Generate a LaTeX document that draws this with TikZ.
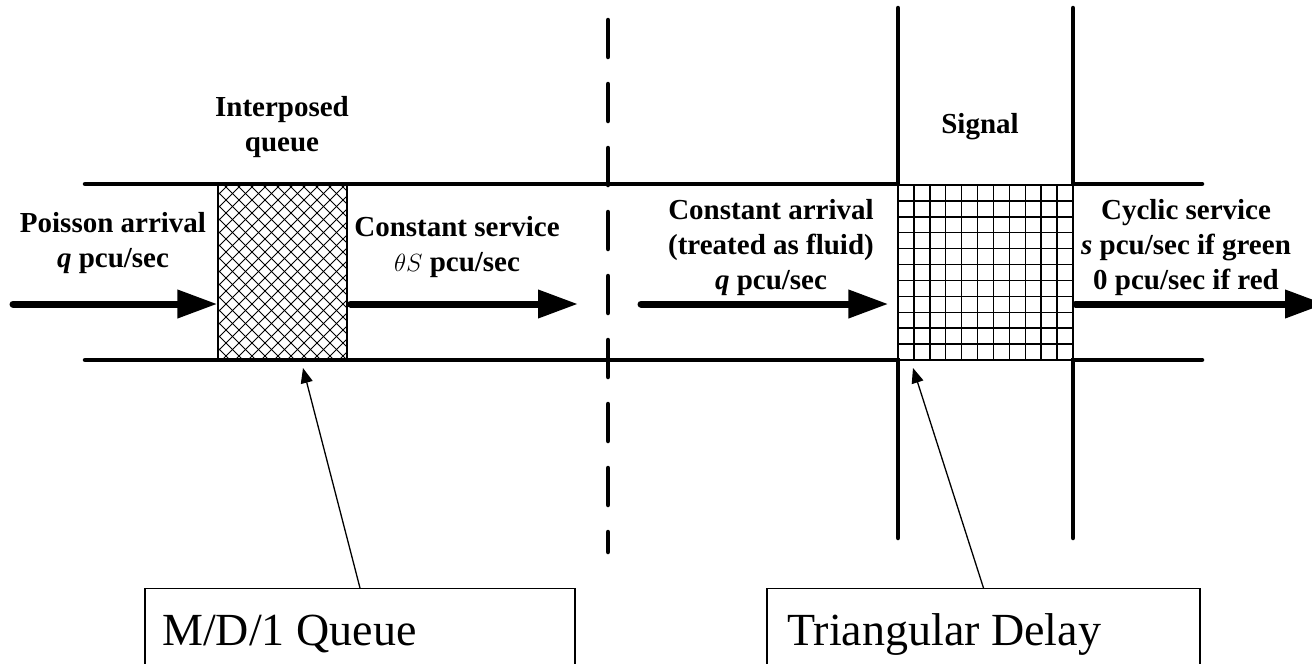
\documentclass[tikz,border=0pt]{standalone}
\usepackage{fontspec}
\setmainfont{Liberation Serif}
\usetikzlibrary{arrows.meta}
\tikzset{
  road/.style={line width=4.5pt, line cap=round, line join=miter},
  flow/.style={line width=7pt, line cap=round, -{Triangle[length=40pt,width=27pt]}},
  lead/.style={line width=1.3pt, -{Triangle[length=15pt,width=12pt]}},
  thin box/.style={draw, line width=1.3pt, inner sep=0pt},
  lbl/.style={font=\fontsize{29}{35}\selectfont\bfseries, align=center, inner sep=0pt},
  big/.style={font=\fontsize{46}{50}\selectfont, inner sep=0pt, anchor=base west},
  hatch/.style={line width=1pt},
  gridl/.style={line width=1.4pt}
}
\begin{document}
\begin{tikzpicture}[x=1pt,y=-1pt]
\useasboundingbox (0,0) rectangle (1312,664);
\clip (0,0) rectangle (1312,664);
\fill[white] (0,0) rectangle (1312,664);

% interposed queue box (cross-hatched)
\begin{scope}
  \clip (218,185) rectangle (347,360);
  \foreach \c in {-143,-130,...,175} { \draw[hatch] (\c+185,185) -- (\c+360,360); }
  \foreach \c in {400,413,...,720} { \draw[hatch] (\c-185,185) -- (\c-360,360); }
\end{scope}
\node[thin box, minimum width=129pt, minimum height=175pt] (mdq) at (282.5,272.5) {};

% signal box (grid)
\foreach \i in {1,...,10} {
  \draw[gridl] (898+\i*175/11,185) -- (898+\i*175/11,360);
  \draw[gridl] (898,185+\i*175/11) -- (1073,185+\i*175/11);
}
\node[thin box, minimum width=175pt, minimum height=175pt] (sig) at (985.5,272.5) {};

% road lines
\draw[road] (85,184) -- (898,184) -- (898,8);
\draw[road] (85,360) -- (898,360) -- (898,538);
\draw[road] (1202,184) -- (1073,184) -- (1073,8);
\draw[road] (1202,360) -- (1073,360) -- (1073,538);

% dashed boundary
\draw[line width=4.5pt, line cap=round, dash pattern=on 37pt off 27pt] (608,20) -- (608,552);

% flow arrows
\coordinate (a1s) at (13,304);
\coordinate (a2e) at (578,304);
\coordinate (a3s) at (641,304);
\coordinate (a4e) at (1325,304);
\draw[flow] (a1s) -- (mdq.west |- a1s);
\draw[flow] (mdq.east |- a1s) ++(3,0) -- (a2e);
\draw[flow] (a3s) -- ([xshift=-9pt]sig.west |- a3s);
\draw[flow] ([xshift=2pt]sig.east |- a3s) -- (a4e);

% labels
\node[lbl] (tq) at (282,127) {Interposed\\queue};
\node[lbl] (tpa) at (113,243) {Poisson arrival\\\textit{q} pcu/sec};
\node[lbl] (tcs) at (457,247) {Constant service\\$\theta S$ pcu/sec};
\node[lbl] (tsig) at (980,127) {Signal};
\node[lbl] (tca) at (771,248) {Constant arrival\\(treated as fluid)\\\textit{q} pcu/sec};
\node[lbl] (tcy) at (1186,248) {Cyclic service\\\textit{s} pcu/sec if green\\0 pcu/sec if red};

% bottom callout boxes
\node[thin box, minimum width=430pt, minimum height=120pt, anchor=north] (mdbox) at (360,588) {};
\node[thin box, minimum width=433pt, minimum height=120pt, anchor=north] (tdbox) at (983.5,588) {};
\node[big] (mdtext) at (162,645) {M/D/1 Queue};
\node[big] (tdtext) at (787,645) {Triangular Delay};

% leaders
\coordinate (p1) at (303,368);
\coordinate (p2) at (913,368);
\draw[lead] (mdbox.north) -- (p1);
\draw[lead] (tdbox.north) -- (p2);
\end{tikzpicture}
\end{document}
